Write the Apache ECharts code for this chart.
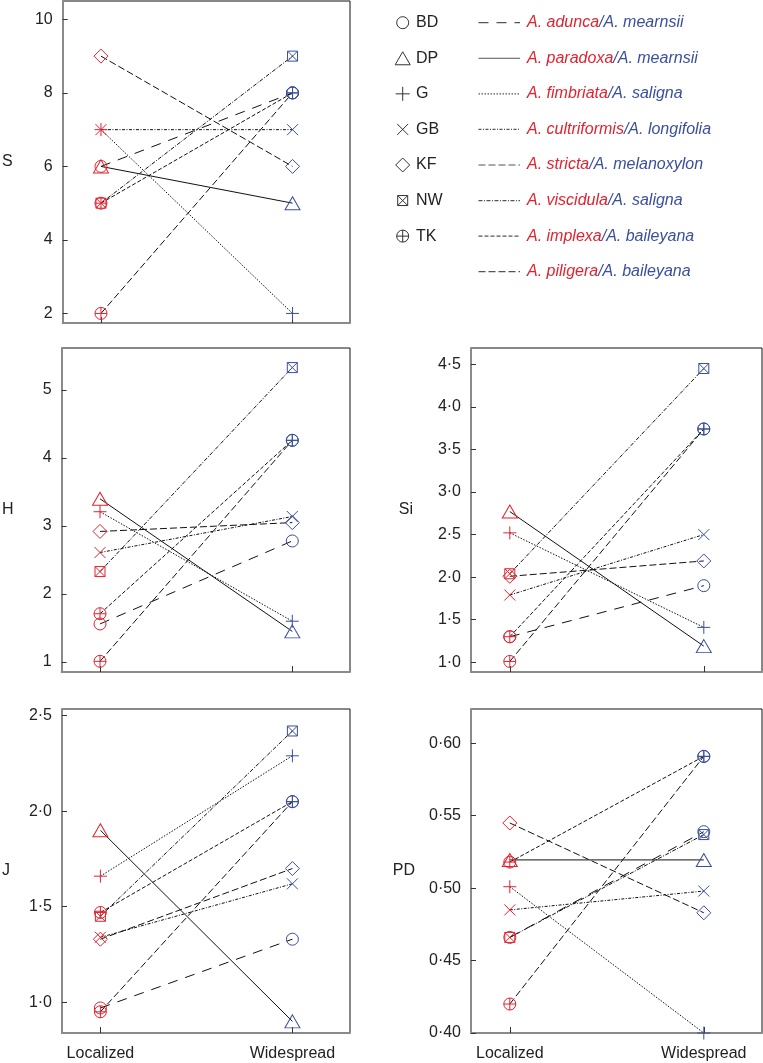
<!DOCTYPE html>
<html>
<head>
<meta charset="utf-8">
<script src="https://cdn.jsdelivr.net/npm/echarts@6/dist/echarts.min.js"></script>
<style>
html,body{margin:0;padding:0;background:#fff;}
#chart{width:763px;height:1063px;}
</style>
</head>
<body>
<div id="chart"></div>
<script>
// ---------- data ----------
const groups = ['Localized', 'Widespread'];
const sites = ['BD', 'DP', 'G', 'GB', 'KF', 'NW', 'TK'];
const localizedSpecies = ['A. adunca', 'A. paradoxa', 'A. fimbriata', 'A. cultriformis', 'A. stricta', 'A. viscidula', 'A. implexa', 'A. piligera'];
const widespreadSpecies = ['A. mearnsii', 'A. mearnsii', 'A. saligna', 'A. longifolia', 'A. melanoxylon', 'A. saligna', 'A. baileyana', 'A. baileyana'];
const pairSite = ['BD', 'DP', 'G', 'GB', 'KF', 'NW', 'TK', 'TK'];

const metrics = ['S', 'H', 'Si', 'J', 'PD'];
const S_loc = [6, 6, 7, 7, 9, 5, 5, 2];
const S_wid = [8, 5, 2, 7, 6, 9, 8, 8];
const H_loc = [1.56, 3.40, 3.21, 2.61, 2.92, 2.33, 1.71, 1.01];
const H_wid = [2.78, 1.45, 1.60, 3.14, 3.05, 5.33, 4.26, 4.26];
const Si_loc = [1.30, 2.77, 2.52, 1.79, 2.01, 2.04, 1.30, 1.01];
const Si_wid = [1.90, 1.19, 1.41, 2.50, 2.19, 4.45, 3.74, 3.74];
const J_loc = [0.97, 1.90, 1.66, 1.34, 1.33, 1.45, 1.47, 0.95];
const J_wid = [1.33, 0.90, 2.29, 1.62, 1.70, 2.42, 2.05, 2.05];
const PD_loc = [0.466, 0.5195, 0.501, 0.485, 0.545, 0.466, 0.518, 0.420];
const PD_wid = [0.539, 0.5195, 0.400, 0.498, 0.483, 0.537, 0.591, 0.591];

const S_ticks = [2, 4, 6, 8, 10];
const H_ticks = [1, 2, 3, 4, 5];
const Si_ticks = [1.0, 1.5, 2.0, 2.5, 3.0, 3.5, 4.0, 4.5];
const J_ticks = [1.0, 1.5, 2.0, 2.5];
const PD_ticks = [0.40, 0.45, 0.50, 0.55, 0.60];

// ---------- styling ----------
const RED = '#e2232f';
const BLUE = '#3a4f9e';
const FONT = 'Liberation Sans, Arial, Helvetica, sans-serif';
const TXT = '#222';

const symbolOf = {
  BD: { symbol: 'circle', size: 12 },
  DP: { symbol: 'triangle', size: [15, 13] },
  G: { symbol: 'path://M0,5L10,5M5,0L5,10', size: 13 },
  GB: { symbol: 'path://M0,0L10,10M10,0L0,10', size: 11 },
  KF: { symbol: 'diamond', size: [14, 14] },
  NW: { symbol: 'path://M0,0L10,0L10,10L0,10ZM0,0L10,10M10,0L0,10', size: 10 },
  TK: { symbol: 'path://M0,5A5,5,0,1,1,10,5A5,5,0,1,1,0,5ZM0,5L10,5M5,0L5,10', size: 12 }
};
const dashOf = [[10, 8], 'solid', [1.5, 1.5], [3, 1.5, 1, 1.5], [7, 3], [4, 1.5, 1, 1.5], [4, 2], [7, 3]];

const panels = [
  { name: 'S', loc: S_loc, wid: S_wid, ticks: S_ticks, dec: 0, min: 1.74, max: 10.5, left: 59.5, top: 1, height: 322, nameGap: 50, xlab: false },
  { name: 'H', loc: H_loc, wid: H_wid, ticks: H_ticks, dec: 0, min: 0.853, max: 5.618, left: 59.5, top: 348, height: 324, nameGap: 48, xlab: false },
  { name: 'Si', loc: Si_loc, wid: Si_wid, ticks: Si_ticks, dec: 1, min: 0.886, max: 4.691, left: 471, top: 348, height: 324, nameGap: 58, xlab: false },
  { name: 'J', loc: J_loc, wid: J_wid, ticks: J_ticks, dec: 1, min: 0.839, max: 2.535, left: 59.5, top: 709, height: 324, nameGap: 52, xlab: true },
  { name: 'PD', loc: PD_loc, wid: PD_wid, ticks: PD_ticks, dec: 2, min: 0.40, max: 0.6237, left: 471, top: 709, height: 324, nameGap: 56, xlab: true }
];

const grid = [], xAxis = [], yAxis = [], series = [];
panels.forEach((p, k) => {
  grid.push({ left: p.left, top: p.top, width: p.left < 100 ? 290.5 : 291, height: p.height,
    show: true, borderColor: '#111', borderWidth: 1, backgroundColor: 'transparent' });
  xAxis.push({
    type: 'value', gridIndex: k, min: 0.8, max: 2.3,
    axisLine: { show: true, lineStyle: { color: '#8a8a8a', width: 2 } },
    axisTick: { show: true, inside: true, length: 6, customValues: [1, 2], lineStyle: { color: '#333' } },
    axisLabel: { show: p.xlab, customValues: [1, 2], margin: 13, fontSize: 16, color: TXT, fontFamily: FONT,
      formatter: v => groups[Math.round(v) - 1] },
    splitLine: { show: false }
  });
  yAxis.push({
    type: 'value', gridIndex: k, min: p.min, max: p.max,
    name: p.name, nameLocation: 'middle', nameRotate: 0, nameGap: p.nameGap,
    nameTextStyle: { fontSize: 16, color: TXT, fontFamily: FONT },
    axisLine: { show: true, lineStyle: { color: '#8a8a8a', width: 2 } },
    axisTick: { show: true, inside: true, length: 5, customValues: p.ticks, lineStyle: { color: '#333' } },
    axisLabel: { customValues: p.ticks, margin: 10, fontSize: 16, color: TXT, fontFamily: FONT,
      formatter: v => v.toFixed(p.dec).replace('.', '\u00b7') },
    splitLine: { show: false }
  });
  localizedSpecies.forEach((sp, i) => {
    const sym = symbolOf[pairSite[i]];
    series.push({
      type: 'line', name: sp + '/' + widespreadSpecies[i] + ' ' + p.name,
      xAxisIndex: k, yAxisIndex: k,
      symbol: sym.symbol, symbolSize: sym.size, showAllSymbol: true,
      silent: true, animation: false, z: 3,
      itemStyle: { color: 'rgba(0,0,0,0)', borderWidth: 1 },
      lineStyle: { color: '#111', width: 1, type: dashOf[i] },
      data: [
        { value: [1, p.loc[i]], itemStyle: { borderColor: RED, color: 'rgba(0,0,0,0)' } },
        { value: [2, p.wid[i]], itemStyle: { borderColor: BLUE, color: 'rgba(0,0,0,0)' } }
      ]
    });
  });
});

// ---------- legend (graphic) ----------
const graphic = [];
const legY0 = 22.7, legStep = 35.57, mx = 402.7;
function legendMarker(site, cy) {
  const st = { stroke: '#333', fill: 'none', lineWidth: 1 };
  const els = [];
  if (site === 'BD') els.push({ type: 'circle', shape: { cx: mx, cy: cy, r: 6 }, style: st });
  if (site === 'DP') els.push({ type: 'polygon', shape: { points: [[mx, cy - 6.5], [mx + 7.5, cy + 6.5], [mx - 7.5, cy + 6.5]] }, style: st });
  if (site === 'G') { els.push({ type: 'line', shape: { x1: mx - 7, y1: cy, x2: mx + 7, y2: cy }, style: st });
    els.push({ type: 'line', shape: { x1: mx, y1: cy - 7, x2: mx, y2: cy + 7 }, style: st }); }
  if (site === 'GB') { els.push({ type: 'line', shape: { x1: mx - 5.5, y1: cy - 5.5, x2: mx + 5.5, y2: cy + 5.5 }, style: st });
    els.push({ type: 'line', shape: { x1: mx + 5.5, y1: cy - 5.5, x2: mx - 5.5, y2: cy + 5.5 }, style: st }); }
  if (site === 'KF') els.push({ type: 'polygon', shape: { points: [[mx, cy - 7], [mx + 7, cy], [mx, cy + 7], [mx - 7, cy]] }, style: st });
  if (site === 'NW') { els.push({ type: 'rect', shape: { x: mx - 5, y: cy - 5, width: 10, height: 10 }, style: st });
    els.push({ type: 'line', shape: { x1: mx - 5, y1: cy - 5, x2: mx + 5, y2: cy + 5 }, style: st });
    els.push({ type: 'line', shape: { x1: mx + 5, y1: cy - 5, x2: mx - 5, y2: cy + 5 }, style: st }); }
  if (site === 'TK') { els.push({ type: 'circle', shape: { cx: mx, cy: cy, r: 6 }, style: st });
    els.push({ type: 'line', shape: { x1: mx - 6, y1: cy, x2: mx + 6, y2: cy }, style: st });
    els.push({ type: 'line', shape: { x1: mx, y1: cy - 6, x2: mx, y2: cy + 6 }, style: st }); }
  return els;
}
sites.forEach((s, i) => {
  const cy = legY0 + i * legStep;
  legendMarker(s, cy).forEach(e => graphic.push(Object.assign(e, { silent: true })));
  graphic.push({ type: 'text', silent: true, style: { text: s, x: 416, y: cy, verticalAlign: 'middle', fill: TXT, font: '16px ' + FONT } });
});
localizedSpecies.forEach((sp, i) => {
  const cy = legY0 + i * legStep;
  const d = dashOf[i];
  graphic.push({ type: 'line', silent: true, shape: { x1: 478.5, y1: cy, x2: 520, y2: cy },
    style: { stroke: '#555', lineWidth: 1.2, lineDash: d === 'solid' ? null : d } });
  graphic.push({ type: 'text', silent: true, style: {
    text: '{r|' + sp + '}{b|/' + widespreadSpecies[i] + '}', x: 527, y: cy, verticalAlign: 'middle',
    font: 'italic 16px ' + FONT,
    rich: { r: { fill: RED, font: 'italic 16px ' + FONT }, b: { fill: BLUE, font: 'italic 16px ' + FONT } }
  } });
});

const chart = echarts.init(document.getElementById('chart'), null, { renderer: 'canvas' });
chart.setOption({
  animation: false,
  backgroundColor: '#fff',
  textStyle: { fontFamily: FONT },
  grid, xAxis, yAxis, series, graphic
});
</script>
</body>
</html>
